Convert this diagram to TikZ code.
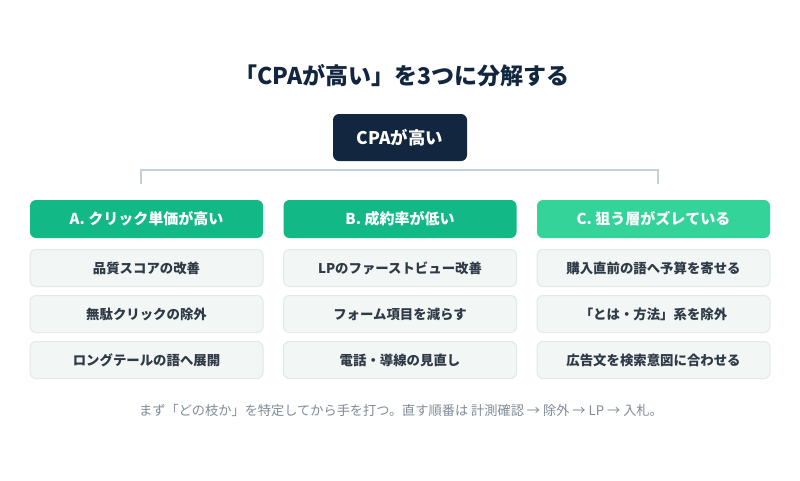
\documentclass[tikz,border=0pt]{standalone}
\usepackage{fontspec}
\setmainfont{Noto Sans CJK JP}
\definecolor{navy}{HTML}{13263F}
\definecolor{emA}{HTML}{12B886}
\definecolor{emC}{HTML}{34D399}
\definecolor{subfill}{HTML}{F2F6F5}
\definecolor{subline}{HTML}{E2E9E7}
\definecolor{subtext}{HTML}{2F3A47}
\definecolor{foot}{HTML}{808B97}
\definecolor{conn}{HTML}{C3CFD9}
\tikzset{
  rootbox/.style={fill=navy, rounded corners=6pt, minimum width=134pt, minimum height=47pt, text=white, font=\fontsize{17.4}{20}\selectfont\bfseries, inner sep=0pt},
  headbox/.style={rounded corners=6pt, minimum width=233pt, minimum height=38pt, text=white, font=\fontsize{15}{18}\selectfont\bfseries, inner sep=0pt},
  subbox/.style={fill=subfill, draw=subline, line width=1pt, rounded corners=6pt, minimum width=233pt, minimum height=37pt, text=subtext, font=\fontsize{13.4}{16}\selectfont\bfseries, inner sep=0pt},
  connline/.style={draw=conn, line width=1.6pt}
}
\begin{document}
\begin{tikzpicture}[x=1pt,y=-1pt]
\useasboundingbox (0,0) rectangle (800,480);
\fill[white] (0,0) rectangle (800,480);
\node[text=navy, font=\fontsize{23}{27}\selectfont\bfseries] (title) at (402,76) {「CPAが高い」を3つに分解する};
\node[rootbox] (root) at (400,137.5) {CPAが高い};
\coordinate (cl) at (141,170);
\coordinate (cr) at (658,170);
\coordinate (dl) at (141,184);
\coordinate (dr) at (658,184);
\draw[connline] (dl) -- (cl) -- (cr) -- (dr);
% headers
\node[headbox, fill=emA] (ha) at (146.5,219) {A. クリック単価が高い};
\node[headbox, fill=emA] (hb) at (400,219) {B. 成約率が低い};
\node[headbox, fill=emC] (hc) at (653.5,219) {C. 狙う層がズレている};
% column A
\node[subbox] (a1) at (146.5,268) {品質スコアの改善};
\node[subbox] (a2) at (146.5,314) {無駄クリックの除外};
\node[subbox] (a3) at (146.5,360) {ロングテールの語へ展開};
% column B
\node[subbox] (b1) at (400,268) {LPのファーストビュー改善};
\node[subbox] (b2) at (400,314) {フォーム項目を減らす};
\node[subbox] (b3) at (400,360) {電話・導線の見直し};
% column C
\node[subbox] (c1) at (653.5,268) {購入直前の語へ予算を寄せる};
\node[subbox] (c2) at (653.5,314) {「とは・方法」系を除外};
\node[subbox] (c3) at (653.5,360) {広告文を検索意図に合わせる};
\node[text=foot, font=\fontsize{13.2}{16}\selectfont] (note) at (401,410) {まず「どの枝か」を特定してから手を打つ。直す順番は 計測確認 → 除外 → LP → 入札。};
\end{tikzpicture}
\end{document}
